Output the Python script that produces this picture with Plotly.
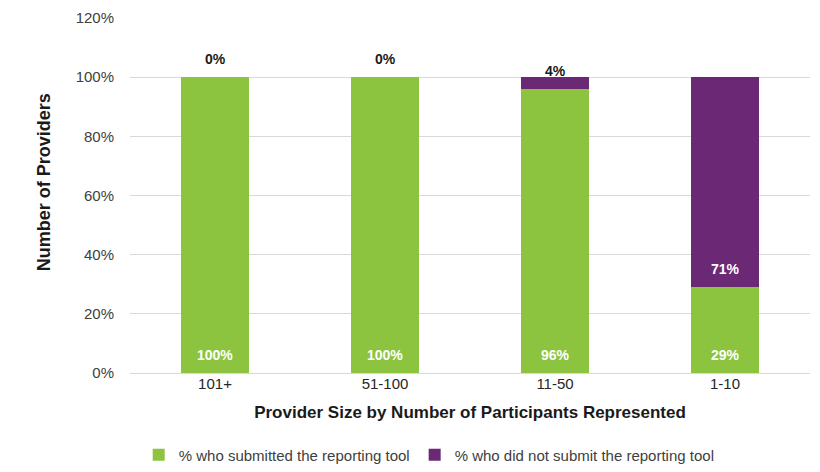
import plotly.graph_objects as go

categories = ["101+", "51-100", "11-50", "1-10"]
submitted = [100, 100, 96, 29]
not_submitted = [0, 0, 4, 71]
series_names = ["% who submitted the reporting tool", "% who did not submit the reporting tool"]
ytick_vals = [0, 20, 40, 60, 80, 100, 120]
ytick_text = [f"{v}%" for v in ytick_vals]

green = "#8cc43f"
purple = "#6a2875"
label_font = "Liberation Sans, Arial, sans-serif"

fig = go.Figure()
fig.add_trace(go.Bar(
    x=categories, y=submitted, name=series_names[0],
    marker=dict(color=green, line=dict(width=0)), width=0.4,
))
fig.add_trace(go.Bar(
    x=categories, y=not_submitted, name=series_names[1],
    marker=dict(color=purple, line=dict(width=0)), width=0.4,
))

# data labels: placed just above the base of each segment (Excel "inside base")
annotations = []
for cat, s, n in zip(categories, submitted, not_submitted):
    for base, val in ((0, s), (s, n)):
        fits = val >= 10
        annotations.append(dict(
            x=cat, y=base, xref="x", yref="y", text=f"{val}%", showarrow=False,
            yanchor="middle", yshift=18,
            font=dict(size=14, family=label_font, weight="bold",
                      color="white" if fits else "#1a1a1a"),
        ))

# y-axis title
annotations.append(dict(
    text="Number of Providers", xref="paper", yref="paper",
    x=-0.126, y=0.538, xanchor="center", yanchor="middle", showarrow=False,
    textangle=-90, font=dict(size=18, color="#1a1a1a", weight="bold"),
))

fig.update_layout(
    barmode="stack",
    width=820, height=472,
    margin=dict(l=130, r=10, t=18, b=99),
    plot_bgcolor="white", paper_bgcolor="white",
    font=dict(family=label_font, color="#404040", size=15),
    annotations=annotations,
    legend=dict(orientation="h", x=0.44, xanchor="center",
                yref="container", y=0.036, yanchor="middle",
                font=dict(size=15, color="#404040"), traceorder="normal",
                itemwidth=30),
    showlegend=True,
)
fig.update_xaxes(
    showgrid=False, showline=False, ticks="", automargin=False,
    tickfont=dict(size=15, color="#262626"),
    title=dict(text="Provider Size by Number of Participants Represented",
               font=dict(size=17, color="#1a1a1a", weight="bold"), standoff=15),
)
fig.update_yaxes(
    range=[0, 120], tickvals=ytick_vals, ticktext=ytick_text, automargin=False,
    showgrid=True, gridcolor="#d9d9d9", gridwidth=1,
    zeroline=True, zerolinecolor="#d9d9d9", zerolinewidth=1,
    showline=False, ticks="outside", ticklen=12, tickcolor="rgba(0,0,0,0)",
    tickfont=dict(size=15, color="#404040"),
)

fig.write_html("out.html", config={"displayModeBar": False})

# remove the browser's default 8px body margin so the figure sits at the page origin
with open("out.html", encoding="utf-8") as f:
    html = f.read()
html = html.replace("<body>", '<body style="margin:0">', 1)
with open("out.html", "w", encoding="utf-8") as f:
    f.write(html)
